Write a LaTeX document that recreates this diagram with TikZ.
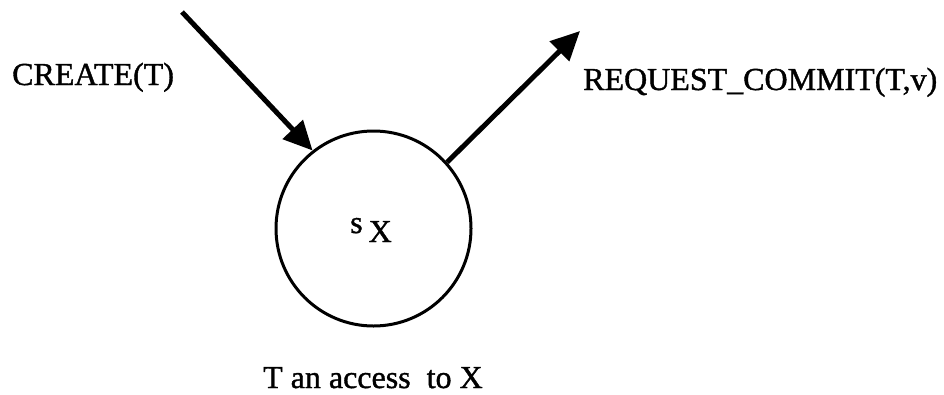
\documentclass[tikz,border=0pt]{standalone}
\usepackage{fontspec}
\setmainfont[FakeBold=1.2]{Liberation Serif}
\usetikzlibrary{arrows.meta}
\begin{document}
\begin{tikzpicture}[x=1pt,y=-1pt,
  lbl/.style={inner sep=0pt,anchor=base west,font=\fontsize{32}{38}\selectfont},
  statecirc/.style={draw,circle,line width=3pt,minimum size=195pt,inner sep=0pt},
  arr/.style={line width=5pt,-{Triangle[length=29pt,width=27pt]}}]
\useasboundingbox (0,0) rectangle (944,394);
\node[statecirc] (s) at (373.5,228.5) {};
\node[lbl] (sx) at (350,233) {s\hspace{6pt}\raisebox{-9pt}{X}};
\node[lbl] (create) at (12,85) {CREATE(T)};
\node[lbl] (req) at (583,90) {REQUEST\_COMMIT(T,v)};
\node[lbl] (cap) at (263,388) {T an access\ \ to X};
\coordinate (c1) at (182,12);
\coordinate (c2) at (580,31);
\draw[arr] (c1) -- (s.128.7);
\draw[arr] (s.42) -- (c2);
\end{tikzpicture}
\end{document}
